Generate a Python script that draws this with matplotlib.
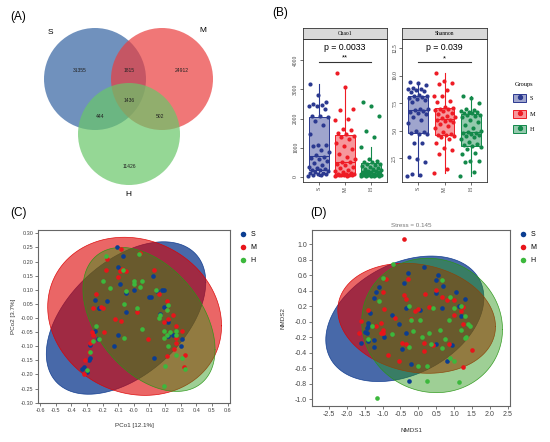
import numpy as np
import matplotlib
matplotlib.use("Agg")
import matplotlib.pyplot as plt
from matplotlib.patches import Circle, Patch
from matplotlib.lines import Line2D
from matplotlib.colors import to_rgba

plt.rcParams['font.family'] = ['Liberation Sans', 'DejaVu Sans']

W, H = 550, 442
groups = ['S', 'M', 'H']

# (A) venn: shared / unique OTUs
venn_regions = ['S', 'SM', 'M', 'SMH', 'SH', 'MH', 'H']
venn_counts = [31355, 1815, 24912, 1436, 444, 502, 11426]

# (B) alpha diversity, one value per sample
chao1_S = [50, 60, 75, 90, 110, 130, 150, 180, 200, 230,
           250, 280, 320, 360, 420, 480, 550, 600, 650, 700,
           760, 840, 920, 1050, 1080, 1100, 1480, 1780, 1900, 2040,
           2080, 2100, 2320, 2420, 2440, 2480, 2500, 2580, 2820, 3180]
chao1_M = [40, 50, 55, 60, 70, 75, 80, 85, 90, 95,
           110, 130, 160, 200, 250, 300, 350, 400, 450, 500,
           520, 600, 700, 800, 950, 1050, 1150, 1300, 1380, 1420,
           1460, 1500, 1600, 1650, 1950, 2000, 2300, 2330, 3080, 3550]
chao1_H = [30, 35, 40, 45, 50, 55, 60, 65, 70, 75,
           80, 90, 100, 110, 120, 140, 150, 170, 180, 190,
           210, 230, 260, 290, 320, 350, 380, 400, 430, 460,
           500, 520, 550, 620, 1040, 1380, 1580, 2080, 2420, 2560]
shannon_S = [0.85, 0.95, 1.05, 2.1, 2.4, 2.56, 3.83, 3.85, 4.7, 4.72,
             4.8, 4.9, 5.0, 5.7, 6.0, 6.2, 6.5, 6.6, 6.7, 6.8,
             6.9, 7.0, 7.0, 7.6, 7.8, 7.9, 8.0, 8.05, 8.1, 8.15,
             8.2, 8.5, 8.6, 8.7, 8.75, 8.8, 8.9, 9.1, 9.3, 9.44]
shannon_M = [1.1, 1.5, 2.9, 3.2, 3.4, 3.9, 4.2, 4.4, 4.5, 4.55,
             4.6, 4.7, 4.9, 5.2, 5.4, 5.6, 5.8, 5.9, 6.0, 6.0,
             6.1, 6.2, 6.3, 6.5, 6.6, 6.8, 6.9, 7.0, 7.0, 7.05,
             7.15, 7.6, 7.7, 8.1, 8.1, 8.7, 9.2, 9.35, 9.5, 10.26]
shannon_H = [0.9, 1.26, 2.1, 2.2, 2.2, 2.86, 3.0, 3.3, 3.5, 3.6,
             3.65, 3.8, 4.0, 4.2, 4.4, 4.5, 4.6, 4.7, 4.75, 4.8,
             4.9, 5.0, 5.2, 5.5, 5.8, 6.0, 6.2, 6.3, 6.4, 6.45,
             6.6, 6.6, 6.7, 6.7, 6.8, 6.9, 7.0, 7.5, 8.0, 8.1]
chao1_p, shannon_p = 'p = 0.0033', 'p = 0.039'
chao1_sig, shannon_sig = '**', '*'

# (C) PCoA coordinates
pcoa_S = [(-0.11, 0.25), (-0.07, 0.22), (-0.10, 0.18), (-0.09, 0.12), (-0.05, 0.09),
          (0.0, 0.10), (-0.25, 0.065), (-0.17, 0.06), (-0.22, 0.035), (-0.05, 0.02),
          (-0.25, -0.045), (-0.23, -0.075), (-0.10, -0.06), (-0.13, -0.10), (-0.28, -0.095),
          (-0.28, -0.14), (-0.29, -0.15), (-0.30, -0.19), (-0.33, -0.18), (-0.32, -0.175),
          (0.12, 0.15), (0.15, 0.095), (0.18, 0.10), (0.19, 0.10), (0.10, 0.075),
          (0.11, 0.075), (0.19, 0.04), (0.17, 0.015), (0.22, -0.015), (0.13, -0.14),
          (0.25, -0.06), (0.31, -0.075), (0.30, -0.10), (0.22, -0.065), (-0.22, 0.035)]
pcoa_M = [(-0.08, 0.245), (0.04, 0.23), (-0.17, 0.21), (-0.18, 0.17), (-0.09, 0.165),
          (-0.10, 0.145), (-0.075, 0.175), (-0.05, 0.165), (0.13, 0.17), (-0.26, 0.035),
          (-0.21, 0.04), (-0.20, 0.035), (-0.24, 0.085), (0.16, 0.085), (0.21, 0.06),
          (-0.12, -0.005), (-0.08, -0.01), (0.02, 0.02), (0.21, 0.03), (0.25, 0.01),
          (0.22, -0.005), (0.19, -0.015), (-0.19, -0.05), (-0.27, -0.05), (-0.26, -0.06),
          (-0.27, -0.08), (-0.28, -0.09), (-0.29, -0.12), (-0.31, -0.15), (-0.32, -0.20),
          (0.09, -0.075), (0.27, -0.03), (0.31, -0.045), (0.27, -0.07), (0.27, -0.09),
          (0.26, -0.11), (0.21, -0.135), (0.33, -0.13), (0.32, -0.175)]
pcoa_H = [(-0.18, 0.22), (0.03, 0.225), (-0.20, 0.13), (-0.07, 0.17), (0.0, 0.13),
          (0.0, 0.12), (0.05, 0.13), (-0.15, 0.105), (-0.05, 0.095), (0.04, 0.11),
          (0.14, 0.10), (-0.06, 0.05), (0.02, 0.035), (0.22, 0.045), (0.21, 0.03),
          (0.17, 0.01), (0.16, 0.0), (-0.24, -0.03), (0.05, -0.04), (0.19, -0.045),
          (0.23, -0.05), (0.27, -0.045), (0.27, -0.06), (0.21, -0.06), (0.19, -0.07),
          (-0.06, -0.07), (-0.22, -0.075), (-0.26, -0.08), (-0.28, -0.12), (0.22, -0.10),
          (0.27, -0.13), (0.31, -0.14), (0.20, -0.17), (0.33, -0.18), (-0.30, -0.185),
          (0.19, -0.24)]
# confidence ellipses: centre, half extents (x, y), correlation
pcoa_ell_center = [(-0.05, 0.0), (0.005, 0.006), (0.097, -0.005)]
pcoa_ell_half = [(0.51, 0.27), (0.556, 0.28), (0.4225, 0.255)]
pcoa_ell_r = [0.47, -0.12, -0.42]

# (D) NMDS coordinates
nmds_S = [(0.15, 0.71), (-0.3, 0.63), (0.55, 0.61), (0.5, 0.54), (-0.4, 0.5),
          (-1.1, 0.45), (-1.2, 0.38), (0.7, 0.46), (1.05, 0.39), (0.5, 0.37),
          (-1.25, 0.31), (1.3, 0.3), (-0.35, 0.18), (0.05, 0.15), (0.65, 0.18),
          (1.15, 0.21), (-0.75, 0.09), (1.2, 0.07), (-1.35, 0.12), (-1.4, -0.02),
          (-1.4, -0.06), (-0.55, -0.03), (-1.45, -0.08), (-1.5, -0.13), (-1.45, -0.15),
          (-1.4, -0.25), (-1.6, -0.27), (-1.25, -0.24), (-1.25, -0.33), (-0.95, -0.19),
          (-0.35, -0.15), (-0.45, -0.35), (0.5, -0.28), (0.95, -0.3), (0.8, -0.5),
          (-0.2, -0.55), (-0.25, -0.76)]
nmds_M = [(-0.4, 1.07), (-0.9, 0.55), (-0.3, 0.55), (-0.4, 0.34), (-1.0, 0.38),
          (-0.35, 0.3), (0.2, 0.36), (0.5, 0.41), (0.65, 0.32), (0.8, 0.28),
          (1.0, 0.28), (1.25, 0.19), (1.2, 0.14), (1.0, 0.09), (0.3, 0.19),
          (-0.1, 0.14), (0.0, 0.16), (-0.95, 0.16), (-1.4, 0.15), (-0.65, 0.05),
          (-1.6, 0.01), (-0.2, 0.04), (-1.2, -0.05), (-1.05, -0.02), (-1.0, -0.1),
          (-1.65, -0.15), (-1.05, -0.14), (-1.0, -0.15), (-0.45, -0.27), (-0.35, -0.28),
          (0.15, -0.27), (0.15, -0.38), (0.4, -0.3), (0.85, -0.28), (1.25, -0.03),
          (-0.85, -0.43), (-0.55, -0.5), (1.25, -0.58), (1.5, -0.36)]
nmds_H = [(-0.7, 0.74), (-1.0, 0.56), (0.65, 0.54), (0.9, 0.32), (-1.1, 0.27),
          (-0.25, 0.2), (0.4, 0.18), (1.0, 0.18), (1.2, 0.21), (-0.2, 0.02),
          (0.05, 0.03), (0.85, 0.02), (1.3, 0.08), (1.4, -0.03), (-1.3, -0.06),
          (0.6, -0.1), (1.2, -0.1), (-0.15, -0.12), (1.45, -0.05), (-0.75, -0.16),
          (0.3, -0.14), (0.75, -0.22), (1.35, -0.2), (1.3, -0.21), (-1.4, -0.22),
          (0.1, -0.2), (-0.25, -0.32), (0.65, -0.34), (0.35, -0.29), (1.0, -0.5),
          (0.9, -0.47), (0.0, -0.57), (0.25, -0.57), (0.25, -0.76), (1.15, -0.78),
          (-1.15, -0.98)]
nmds_ell_center = [(-0.378, 0.039), (-0.047, 0.046), (0.387, -0.047)]
nmds_ell_half = [(2.216, 0.81), (2.21, 0.71), (1.973, 0.867)]
nmds_ell_r = [0.334, -0.15, -0.06]
nmds_stress = 0.145

fig = plt.figure(figsize=(5.5, 4.42), dpi=100)


def px_axes(x0, y0, x1, y1):
    return fig.add_axes([x0 / W, 1 - y1 / H, (x1 - x0) / W, (y1 - y0) / H])


def ellipse_xy(center, half, r, n=240):
    sx, sy = half
    cov = np.array([[sx * sx, r * sx * sy], [r * sx * sy, sy * sy]])
    L = np.linalg.cholesky(cov)
    t = np.linspace(0, 2 * np.pi, n)
    pts = np.array(center)[:, None] + L @ np.vstack([np.cos(t), np.sin(t)])
    return pts[0], pts[1]


fig.text(10 / W, 1 - 17 / H, '(A)', fontsize=8.5, va='center')
fig.text(272 / W, 1 - 13 / H, '(B)', fontsize=8.5, va='center')
fig.text(10 / W, 1 - 213 / H, '(C)', fontsize=8.5, va='center')
fig.text(310 / W, 1 - 213 / H, '(D)', fontsize=8.5, va='center')

# ---------------- (A) venn ----------------
axA = px_axes(0, 0, 250, 200)
axA.set_xlim(0, 250)
axA.set_ylim(200, 0)
axA.axis('off')
circ_xy = {'S': (95, 79), 'M': (162, 79), 'H': (129, 134)}
circ_col = {'S': '#3363a2', 'M': '#ea3e3e', 'H': '#69c669'}
for g in groups:
    axA.add_patch(Circle(circ_xy[g], 51, fc=circ_col[g], ec='none', alpha=0.7))
set_lab_xy = {'S': (50, 33), 'M': (203, 31), 'H': (128, 195)}
for g in groups:
    axA.text(*set_lab_xy[g], g, fontsize=6, ha='center', va='center')
reg_xy = {'S': (80, 70), 'SM': (129, 70), 'M': (182, 70), 'SMH': (129, 100),
          'SH': (100, 117), 'MH': (160, 117), 'H': (129, 166)}
for reg, cnt in zip(venn_regions, venn_counts):
    axA.text(*reg_xy[reg], str(cnt), fontsize=3.6, ha='center', va='center', color='#222222')

# ---------------- (B) boxplots ----------------
box_col = ['#2b3990', '#ee1c25', '#13894a']
serif = ['Liberation Serif', 'DejaVu Serif']


def alpha_panel(x0, x1, title, data, ylim, ticks, ticklabels, ptxt, sig, line_y, sig_y, p_y):
    ax = px_axes(x0, 39, x1, 182)
    strip = px_axes(x0, 28, x1, 39)
    strip.set_facecolor('#d9d9d9')
    strip.set_xticks([])
    strip.set_yticks([])
    strip.text(0.5, 0.5, title, fontsize=4, ha='center', va='center', family=serif)
    for sp in list(ax.spines.values()) + list(strip.spines.values()):
        sp.set_linewidth(0.6)
        sp.set_color('#333333')
    bp = ax.boxplot(data, positions=[1, 2, 3], widths=0.75, patch_artist=True,
                    showfliers=False, whis=1.5)
    for i, c in enumerate(box_col):
        bp['boxes'][i].set_facecolor(to_rgba(c, 0.45))
        bp['boxes'][i].set_edgecolor(c)
        bp['boxes'][i].set_linewidth(0.7)
        bp['medians'][i].set_color(c)
        bp['medians'][i].set_linewidth(0.8)
        for w in bp['whiskers'][2 * i:2 * i + 2]:
            w.set_color(c)
            w.set_linewidth(0.8)
        for cp in bp['caps'][2 * i:2 * i + 2]:
            cp.set_visible(False)
        vals = np.array(data[i])
        jit = ((np.arange(len(vals)) * 0.618034) % 1 - 0.5) * 0.8
        ax.scatter(i + 1 + jit, vals, s=9, color=c, zorder=3, linewidths=0)
    ax.plot([1, 3], [line_y, line_y], color='#333333', lw=0.8)
    ax.text(2, sig_y, sig, fontsize=5.5, ha='center', va='center')
    ax.text(2, p_y, ptxt, fontsize=6.3, ha='center', va='center')
    ax.set_xlim(0.4, 3.6)
    ax.set_ylim(*ylim)
    ax.set_xticks([1, 2, 3])
    ax.set_xticklabels(groups, rotation=90, family=serif, fontsize=4)
    ax.set_yticks(ticks)
    ax.set_yticklabels(ticklabels, rotation=90, family=serif, fontsize=4, va='center')
    ax.tick_params(length=2, width=0.5, pad=1.5, colors='#333333')
    return ax


alpha_panel(303, 387, 'Chao1', [chao1_S, chao1_M, chao1_H], (-170, 4720),
            [0, 1000, 2000, 3000, 4000], ['0', '1000', '2000', '3000', '4000'],
            chao1_p, chao1_sig, 3930, 4080, 4420)
alpha_panel(402, 487, 'Shannon', [shannon_S, shannon_M, shannon_H], (0.32, 13.32),
            [2.5, 5.0, 7.5, 10.0, 12.5], ['2.5', '5.0', '7.5', '10.0', '12.5'],
            shannon_p, shannon_sig, 11.23, 11.55, 12.53)

leg_handles = [(Patch(fc=to_rgba(c, 0.45), ec=c, lw=0.7),
                Line2D([], [], marker='o', ms=2.8, color=c, ls='none')) for c in box_col]
fig.legend(leg_handles, groups, loc='upper left',
           bbox_to_anchor=(507 / W, 1 - 76 / H), frameon=False,
           prop={'family': serif, 'size': 4.5}, title='Groups',
           title_fontproperties={'family': serif, 'size': 4.5},
           handlelength=2.2, handleheight=1.6, labelspacing=1.2, handletextpad=0.6)

# ---------------- (C) PCoA / (D) NMDS ----------------
pt_col = ['#0b3d91', '#e8141a', '#3cb83c']
ell_col = ['#0a378c', '#dc0000', '#289614']
ell_alpha = [0.75, 0.6, 0.45]


def ord_panel(ax, pts, centers, halves, rs):
    for i in range(3):
        ex, ey = ellipse_xy(centers[i], halves[i], rs[i])
        ax.fill(ex, ey, fc=ell_col[i], alpha=ell_alpha[i], ec='none', zorder=1)
        ax.plot(ex, ey, color=ell_col[i], lw=0.5, alpha=0.9, zorder=1)
    handles = []
    for i in range(3):
        arr = np.array(pts[i])
        h = ax.scatter(arr[:, 0], arr[:, 1], s=11, color=pt_col[i], zorder=3,
                       linewidths=0, label=groups[i])
        handles.append(h)
    for sp in ax.spines.values():
        sp.set_color('#666666')
        sp.set_linewidth(0.8)
    ax.tick_params(length=2, width=0.5, pad=1.5, colors='#444444', labelsize=4)
    ax.legend(handles=handles, loc='upper left', bbox_to_anchor=(1.01, 1.02),
              frameon=False, fontsize=5, handletextpad=0.1, labelspacing=0.9,
              markerscale=1.2, borderaxespad=0.2)


axC = px_axes(38, 230, 230, 403)
ord_panel(axC, [pcoa_S, pcoa_M, pcoa_H], pcoa_ell_center, pcoa_ell_half, pcoa_ell_r)
axC.set_xlim(-0.613, 0.615)
axC.set_ylim(-0.301, 0.3117)
axC.set_xticks(np.round(np.arange(-0.6, 0.61, 0.1), 1))
axC.set_yticks(np.round(np.arange(-0.3, 0.31, 0.05), 2))
axC.yaxis.set_major_formatter(matplotlib.ticker.FormatStrFormatter('%.2f'))
axC.xaxis.set_major_formatter(matplotlib.ticker.FormatStrFormatter('%.1f'))
axC.set_xlabel('PCo1 [12.1%]', fontsize=4.5, labelpad=7, color='#333333')
axC.set_ylabel('PCo2 [3.7%]', fontsize=4.5, labelpad=3, color='#333333')

axD = px_axes(312, 230, 510, 406)
ord_panel(axD, [nmds_S, nmds_M, nmds_H], nmds_ell_center, nmds_ell_half, nmds_ell_r)
axD.set_xlim(-2.98, 2.57)
axD.set_ylim(-1.086, 1.185)
axD.set_xticks(np.round(np.arange(-2.5, 2.51, 0.5), 1))
axD.set_yticks(np.round(np.arange(-1.0, 1.01, 0.2), 1))
axD.yaxis.set_major_formatter(matplotlib.ticker.FormatStrFormatter('%.1f'))
axD.xaxis.set_major_formatter(matplotlib.ticker.FormatStrFormatter('%.1f'))
axD.tick_params(labelsize=5)
axD.set_xlabel('NMDS1', fontsize=4.5, labelpad=7, color='#333333')
axD.set_ylabel('NMDS2', fontsize=4.5, labelpad=7, color='#333333')
axD.set_title('Stress = %.3f' % nmds_stress, fontsize=4.5, color='#777777', pad=2)

fig.savefig('out.png', dpi=100)
